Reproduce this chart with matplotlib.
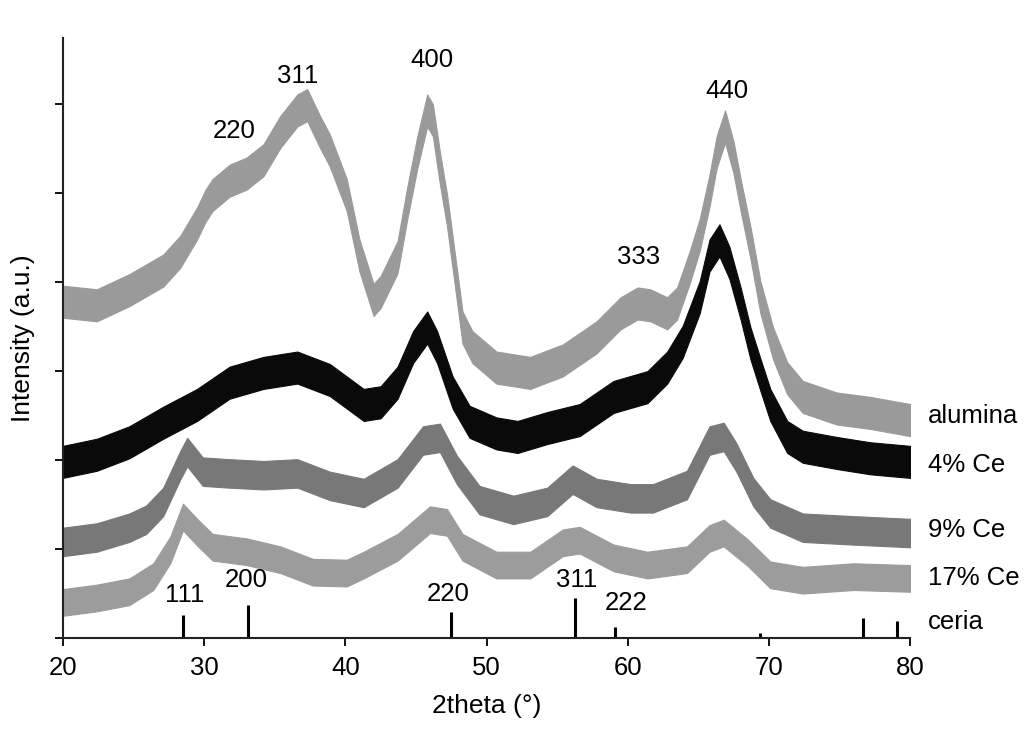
#XRD patterns of alumina and Ce-doped alumina, with ceria reference sticks
import numpy as np
import matplotlib
matplotlib.use('Agg')
import matplotlib.pyplot as plt

plt.rcParams['font.family'] = ['Liberation Sans', 'DejaVu Sans']

#traces (2theta in deg, intensity in a.u. with offsets included)
alumina_x = [20.0, 22.4, 24.7, 27.1, 28.3, 29.5, 30.1, 30.6, 31.8, 33.0, 34.2, 35.4, 36.6, 37.3, 38.2,
             38.9, 40.1, 41.0, 42.0, 42.5, 43.7, 44.4, 45.1, 45.8, 46.2, 46.7, 47.2, 47.9, 48.3, 49.0,
             50.7, 53.1, 55.4, 57.8, 59.5, 60.7, 61.6, 62.8, 63.5, 64.4, 65.1, 65.8, 66.3, 66.9, 67.5,
             68.0, 68.7, 69.4, 70.3, 71.3, 72.4, 74.8, 77.2, 80.0]
alumina_y = [3.78, 3.74, 3.91, 4.13, 4.34, 4.66, 4.86, 4.98, 5.14, 5.22, 5.37, 5.69, 5.93, 5.99, 5.69,
             5.48, 4.98, 4.30, 3.80, 3.89, 4.28, 4.90, 5.46, 5.93, 5.82, 5.28, 4.81, 3.97, 3.49, 3.27,
             3.04, 2.98, 3.12, 3.38, 3.65, 3.76, 3.74, 3.65, 3.76, 4.17, 4.53, 5.03, 5.46, 5.75, 5.40,
             4.98, 4.44, 3.83, 3.31, 2.92, 2.71, 2.58, 2.53, 2.45]

ce4_x = [20.0, 22.4, 24.7, 27.1, 29.5, 31.8, 34.2, 36.6, 38.9, 40.1, 41.3, 42.5, 43.7, 44.8, 45.8,
         46.5, 47.6, 48.8, 50.7, 52.2, 54.3, 56.6, 59.0, 61.4, 62.8, 63.9, 65.1, 65.8, 66.5, 67.2,
         68.0, 68.7, 69.4, 70.1, 71.3, 72.4, 74.8, 77.2, 80.0]
ce4_y = [1.98, 2.06, 2.20, 2.42, 2.62, 2.87, 2.98, 3.04, 2.90, 2.76, 2.62, 2.65, 2.87, 3.27, 3.49,
         3.27, 2.76, 2.43, 2.30, 2.26, 2.36, 2.45, 2.71, 2.82, 3.04, 3.33, 3.83, 4.30, 4.47, 4.22,
         3.76, 3.31, 2.96, 2.62, 2.26, 2.15, 2.08, 2.02, 1.98]

ce9_x = [20.0, 22.4, 24.7, 25.9, 27.1, 28.3, 28.8, 29.9, 31.8, 34.2, 36.6, 38.9, 41.3, 43.7, 45.5,
         46.7, 47.9, 49.5, 51.9, 54.3, 56.1, 57.8, 60.2, 61.8, 64.2, 65.8, 66.8, 67.7, 68.9, 70.1,
         72.4, 76.0, 80.0]
ce9_y = [1.08, 1.13, 1.24, 1.33, 1.53, 1.94, 2.09, 1.87, 1.85, 1.83, 1.85, 1.71, 1.63, 1.85, 2.22,
         2.25, 1.89, 1.55, 1.44, 1.53, 1.78, 1.63, 1.57, 1.57, 1.72, 2.22, 2.26, 2.03, 1.64, 1.40,
         1.24, 1.21, 1.18]

ce17_x = [20.0, 22.4, 24.7, 26.4, 27.6, 28.5, 29.5, 30.6, 33.0, 35.4, 37.7, 40.1, 41.3, 43.7, 46.0,
          47.2, 48.3, 50.7, 53.1, 55.4, 56.6, 59.0, 61.4, 64.2, 65.8, 66.8, 68.5, 70.1, 72.4, 76.0,
          80.0]
ce17_y = [0.40, 0.45, 0.52, 0.69, 0.99, 1.36, 1.19, 1.02, 0.97, 0.88, 0.74, 0.73, 0.82, 1.02, 1.33,
          1.30, 1.02, 0.82, 0.82, 1.07, 1.10, 0.90, 0.82, 0.88, 1.12, 1.18, 0.96, 0.71, 0.65, 0.69,
          0.67]

#half height of the noise band of each trace
noise = {'alumina': 0.18, '4% Ce': 0.18, '9% Ce': 0.16, '17% Ce': 0.15}

#ceria reference pattern (stick positions and heights)
ceria_pos = [28.5, 33.1, 47.5, 56.3, 59.1, 69.4, 76.7, 79.1]
ceria_h = [0.26, 0.37, 0.29, 0.45, 0.12, 0.06, 0.22, 0.19]

#peak labels
alumina_peaks = ['220', '311', '400', '333', '440']
alumina_peak_pos = [(32.1, 5.70), (36.6, 6.32), (46.1, 6.50), (60.8, 4.28), (67.0, 6.15)]
ceria_peaks = ['111', '200', '220', '311', '222']
ceria_peak_pos = [(28.6, 0.48), (33.0, 0.65), (47.3, 0.49), (56.4, 0.65), (59.9, 0.39)]

labels = ['alumina', '4% Ce', '9% Ce', '17% Ce', 'ceria']
label_y = [2.50, 1.94, 1.21, 0.67, 0.18]

fig = plt.figure(figsize=(10.24, 7.31), dpi=100)
ax = fig.add_axes([0.0615, 0.1272, 0.8272, 0.8215])

traces = [('alumina', alumina_x, alumina_y, '#9a9a9a'),
          ('17% Ce', ce17_x, ce17_y, '#9c9c9c'),
          ('9% Ce', ce9_x, ce9_y, '#787878'),
          ('4% Ce', ce4_x, ce4_y, '#0a0a0a')]

for name, x, y, c in traces:
    x = np.array(x)
    y = np.array(y)
    w = noise[name]
    ax.fill_between(x, y - w, y + w, color=c, linewidth=0.8, edgecolor=c)

#ceria sticks
ax.vlines(ceria_pos, 0, ceria_h, color='black', linewidth=2.2)

for txt, (px, py) in zip(alumina_peaks, alumina_peak_pos):
    ax.text(px, py, txt, ha='center', va='center', fontsize=18.5)
for txt, (px, py) in zip(ceria_peaks, ceria_peak_pos):
    ax.text(px, py, txt, ha='center', va='center', fontsize=18.5)

for txt, ly in zip(labels, label_y):
    ax.text(81.25, ly, txt, ha='left', va='center', fontsize=18.5, clip_on=False)

ax.set_xlim(20, 80)
ax.set_ylim(0, 6.75)
ax.set_xticks([20, 30, 40, 50, 60, 70, 80])
ax.set_yticks([0, 1, 2, 3, 4, 5, 6])
ax.set_yticklabels([])
ax.tick_params(axis='both', direction='out', length=6, width=1.3, labelsize=18.5, pad=7)

for s in ['top', 'right']:
    ax.spines[s].set_visible(False)
for s in ['left', 'bottom']:
    ax.spines[s].set_linewidth(1.5)
    ax.spines[s].set_color('#222222')

ax.set_xlabel('2theta (°)', fontsize=19, labelpad=10)
ax.set_ylabel('Intensity (a.u.)', fontsize=19, labelpad=7)

fig.savefig('out.png', dpi=100)
